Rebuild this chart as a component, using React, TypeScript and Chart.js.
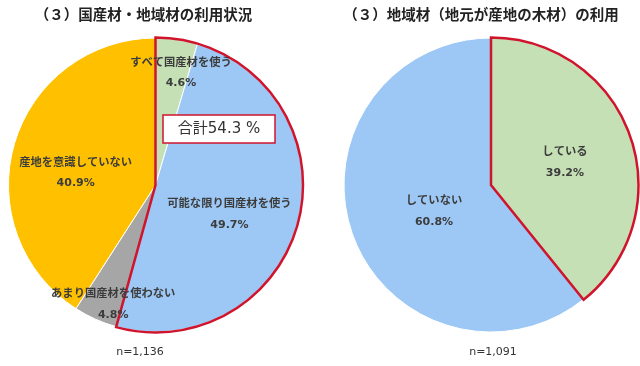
import React, { useEffect, useRef } from "react";
import { Chart, registerables } from "chart.js";

Chart.register(...registerables);

// ---- data ----
const leftTitle = "（３）国産材・地域材の利用状況";
const leftCategories = [
  "すべて国産材を使う",
  "可能な限り国産材を使う",
  "あまり国産材を使わない",
  "産地を意識していない",
];
const leftValues = [4.6, 49.7, 4.8, 40.9];
const leftHighlight = [0, 1];
const leftN = "n=1,136";

const rightTitle = "（３）地域材（地元が産地の木材）の利用";
const rightCategories = ["している", "していない"];
const rightValues = [39.2, 60.8];
const rightHighlight = [0];
const rightN = "n=1,091";

// ---- styles ----
const GREEN = "#C5E0B4";
const BLUE = "#9DC8F5";
const GRAY = "#A6A6A6";
const YELLOW = "#FFC000";
const RED = "#D0142C";
const TEXT = "#3C3C3C";
const JP = '"Noto Sans CJK JP", "Noto Sans", sans-serif';
const NUM = '"DejaVu Sans", "Noto Sans CJK JP", sans-serif';

type Lay = { r: number; a: number };

interface PieSpec {
  title: string;
  titleX: number;
  categories: string[];
  values: number[];
  colors: string[];
  highlight: number[];
  n: string;
  nX: number;
  padding: { left: number; right: number; top: number; bottom: number };
  labelLayout: Lay[];
  totalBox: boolean;
}

const specs: PieSpec[] = [
  {
    title: leftTitle,
    titleX: 143.5,
    categories: leftCategories,
    values: leftValues,
    colors: [GREEN, BLUE, GRAY, YELLOW],
    highlight: leftHighlight,
    n: leftN,
    nX: 140,
    padding: { left: 8, right: 17, top: 37.5, bottom: 33.5 },
    labelLayout: [
      { r: 0.785, a: 0.77 },
      { r: 0.54, a: 0.53 },
      { r: 0.857, a: 0.24 },
      { r: 0.55, a: 0.45 },
    ],
    totalBox: true,
  },
  {
    title: rightTitle,
    titleX: 161,
    categories: rightCategories,
    values: rightValues,
    colors: [GREEN, BLUE],
    highlight: rightHighlight,
    n: rightN,
    nX: 173,
    padding: { left: 23.5, right: 1.5, top: 37.5, bottom: 33.5 },
    labelLayout: [
      { r: 0.527, a: 0.515 },
      { r: 0.426, a: 0.477 },
    ],
    totalBox: false,
  },
];

function makePlugin(spec: PieSpec) {
  return {
    id: "pieDecor",
    afterDraw(chart: any) {
      const ctx: CanvasRenderingContext2D = chart.ctx;
      const meta = chart.getDatasetMeta(0);
      const arcs = meta.data;
      ctx.save();
      // red outline around highlighted slices
      if (spec.highlight.length) {
        const first = arcs[spec.highlight[0]];
        const last = arcs[spec.highlight[spec.highlight.length - 1]];
        const { x, y, outerRadius } = first.getProps(["x", "y", "outerRadius"], true);
        const sa = first.getProps(["startAngle"], true).startAngle;
        const ea = last.getProps(["endAngle"], true).endAngle;
        ctx.beginPath();
        ctx.moveTo(x, y);
        ctx.arc(x, y, outerRadius + 0.5, sa, ea);
        ctx.closePath();
        ctx.lineWidth = 2.5;
        ctx.lineJoin = "miter";
        ctx.strokeStyle = RED;
        ctx.stroke();
      }
      // slice labels
      ctx.textAlign = "center";
      ctx.textBaseline = "middle";
      ctx.fillStyle = TEXT;
      arcs.forEach((arc: any, i: number) => {
        const p = arc.getProps(["x", "y", "startAngle", "endAngle", "outerRadius"], true);
        const lay = spec.labelLayout[i];
        const ang = p.startAngle + (p.endAngle - p.startAngle) * lay.a;
        const rr = p.outerRadius * lay.r;
        const cx = p.x + Math.cos(ang) * rr;
        const cy = p.y + Math.sin(ang) * rr;
        ctx.font = `bold 11.3px ${JP}`;
        ctx.fillText(spec.categories[i], cx, cy - 11);
        ctx.font = `bold 11px ${NUM}`;
        ctx.fillText(spec.values[i].toFixed(1) + "%", cx, cy + 11);
      });
      // total box
      if (spec.totalBox) {
        const p = arcs[0].getProps(["x", "y"], true);
        const bx = p.x + 7.5;
        const by = p.y - 70;
        const bw = 112;
        const bh = 28;
        ctx.fillStyle = "#FFFFFF";
        ctx.fillRect(bx, by, bw, bh);
        ctx.lineWidth = 1.5;
        ctx.strokeStyle = RED;
        ctx.strokeRect(bx, by, bw, bh);
        const sum = spec.highlight.reduce((s, k) => s + spec.values[k], 0);
        ctx.fillStyle = "#333333";
        ctx.font = `15px ${NUM}`;
        ctx.fillText("合計" + sum.toFixed(1) + " %", bx + bw / 2, by + bh / 2 + 0.5);
      }
      // title
      ctx.fillStyle = "#222222";
      ctx.font = `bold 14.5px ${JP}`;
      ctx.fillText(spec.title, spec.titleX, 14);
      // n
      ctx.fillStyle = "#333333";
      ctx.font = `11px "DejaVu Sans", sans-serif`;
      ctx.fillText(spec.n, spec.nX, 352);
      ctx.restore();
    },
  };
}

function PieCanvas({ spec, left }: { spec: PieSpec; left: number }) {
  const ref = useRef<HTMLCanvasElement | null>(null);
  useEffect(() => {
    if (!ref.current) return;
    const chart = new Chart(ref.current, {
      type: "pie",
      data: {
        labels: spec.categories,
        datasets: [
          {
            data: spec.values,
            backgroundColor: spec.colors,
            borderColor: "#FFFFFF",
            borderWidth: 1,
          },
        ],
      },
      options: {
        responsive: false,
        animation: false,
        events: [],
        layout: { padding: spec.padding },
        plugins: {
          legend: { display: false },
          tooltip: { enabled: false },
          title: { display: false },
        },
      },
      plugins: [makePlugin(spec)],
    });
    return () => chart.destroy();
  }, [spec]);
  return (
    <canvas
      ref={ref}
      width={320}
      height={366}
      style={{ position: "absolute", left, top: 0, width: 320, height: 366 }}
    />
  );
}

export default function App() {
  return (
    <div
      style={{
        position: "absolute",
        left: 0,
        top: 0,
        width: 640,
        height: 366,
        background: "#FFFFFF",
        overflow: "hidden",
      }}
    >
      <PieCanvas spec={specs[0]} left={0} />
      <PieCanvas spec={specs[1]} left={320} />
    </div>
  );
}
